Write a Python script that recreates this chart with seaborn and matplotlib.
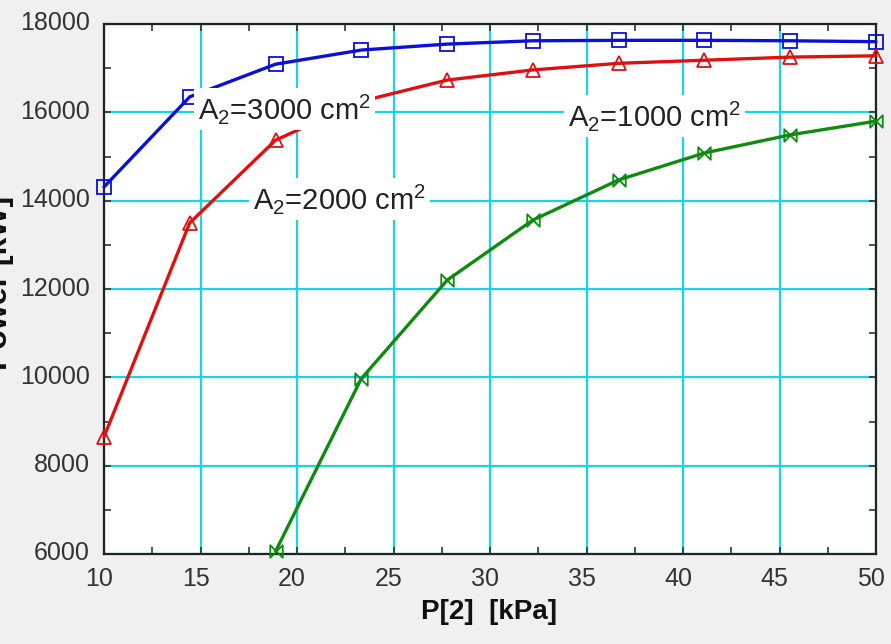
import numpy as np
import pandas as pd
import seaborn as sns
import matplotlib
matplotlib.use("Agg")
import matplotlib.pyplot as plt
from matplotlib.path import Path
from matplotlib.ticker import MultipleLocator
from matplotlib.transforms import ScaledTranslation

# ---- data ----
p2_all = [10.0, 14.44, 18.89, 23.33, 27.78, 32.22, 36.67, 41.11, 45.56, 50.0]
power_3000 = [14310, 16350, 17090, 17410, 17545, 17620, 17630, 17630, 17620, 17600]
power_2000 = [8650, 13495, 15370, 16250, 16730, 16960, 17110, 17180, 17250, 17280]
p2_1000 = [18.89, 23.33, 27.78, 32.22, 36.67, 41.11, 45.56, 50.0]
power_1000 = [6060, 9970, 12200, 13560, 14470, 15080, 15490, 15800]

labels = ["A$_2$=3000 cm$^2$", "A$_2$=2000 cm$^2$", "A$_2$=1000 cm$^2$"]
x_label = "P[2]  [kPa]"
y_label = "Power [kW]"

sns.set_theme(style="white")
plt.rcParams["font.family"] = ["Liberation Sans", "DejaVu Sans"]
plt.rcParams["mathtext.fontset"] = "custom"
plt.rcParams["mathtext.rm"] = "Liberation Sans"

fig = plt.figure(figsize=(8.91, 6.44), dpi=100, facecolor="#f0f0f0")
ax = fig.add_axes([104/891, 1-554/644, (876-104)/891, (554-24)/644])
ax.set_facecolor("white")

bowtie = Path([(-1, 1), (1, -1), (1, 1), (-1, -1), (-1, 1)],
              [Path.MOVETO, Path.LINETO, Path.LINETO, Path.LINETO, Path.CLOSEPOLY])

series = [
    (p2_all, power_3000, "#0a10d8", "s", 10),
    (p2_all, power_2000, "#e01010", "^", 10),
    (p2_1000, power_1000, "#108a10", bowtie, 9),
]
for xs, ys, col, mk, ms in series:
    df = pd.DataFrame({"x": xs, "y": ys})
    sns.lineplot(data=df, x="x", y="y", ax=ax, color=col, linewidth=2.4,
                 marker=mk, markersize=ms, markerfacecolor="none",
                 markeredgecolor=col, markeredgewidth=1.3, zorder=3,
                 clip_on=False)

ax.set_xlim(10, 50)
ax.set_ylim(6000, 18000)
ax.xaxis.set_major_locator(MultipleLocator(5))
ax.xaxis.set_minor_locator(MultipleLocator(2.5))
ax.yaxis.set_major_locator(MultipleLocator(2000))
ax.yaxis.set_minor_locator(MultipleLocator(1000))
ax.grid(True, which="major", color="#18d4e4", linewidth=1.6, zorder=0)
ax.set_axisbelow(True)

ax.tick_params(which="both", direction="in", top=True, right=True,
               bottom=True, left=True, length=5, width=1.2, color="#333333",
               labelsize=18, labelcolor="#333333")
ax.tick_params(axis="x", which="major", pad=9)
ax.tick_params(axis="y", which="major", pad=10)

for lab in ax.get_xticklabels():
    lab.set_transform(lab.get_transform() + ScaledTranslation(-5/100, 0, fig.dpi_scale_trans))
for lab in ax.get_yticklabels():
    lab.set_transform(lab.get_transform() + ScaledTranslation(0, 3/100, fig.dpi_scale_trans))

for sp in ax.spines.values():
    sp.set_color("#222222")
    sp.set_linewidth(1.6)

ax.set_xlabel("")
ax.set_ylabel("")
fig.text(489/891, 1-612/644, x_label, ha="center", va="center",
         fontsize=20, fontweight="bold", color="#111111")
fig.text(-1/891, 1-283/644, y_label, ha="center", va="center", rotation=90,
         fontsize=23, fontweight="bold", color="#111111")

box = dict(facecolor="white", edgecolor="none", pad=3)
ax.text(14.87, 16070, labels[0], fontsize=21, color="#222222", va="center",
        ha="left", bbox=box, zorder=5)
ax.text(17.72, 14040, labels[1], fontsize=21, color="#222222", va="center",
        ha="left", bbox=box, zorder=5)
ax.text(34.04, 15920, labels[2], fontsize=21, color="#222222", va="center",
        ha="left", bbox=box, zorder=5)

fig.savefig("out.png", dpi=100, facecolor=fig.get_facecolor())
